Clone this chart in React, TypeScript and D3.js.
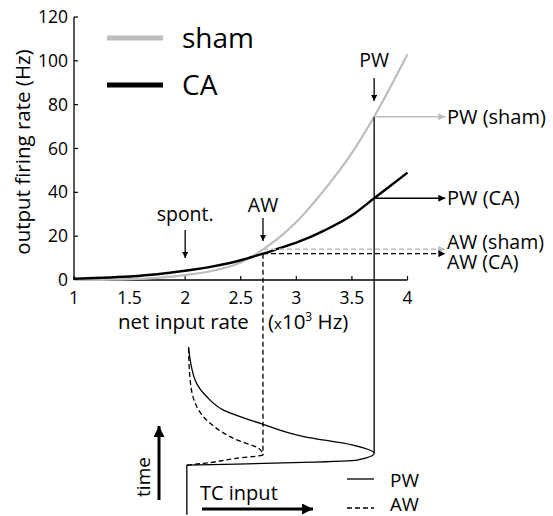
import React from "react";
import * as d3 from "d3";

// ---- data ----
const inputRate = [1, 1.25, 1.5, 1.75, 2, 2.25, 2.5, 2.6, 2.7, 2.85, 3, 3.25, 3.5, 3.7, 4];
const shamRate = [0, 0.1, 0.4, 1.0, 2.2, 4.2, 8, 10.6, 14, 19.6, 26.5, 41, 58, 74.5, 103];
const caRate = [0.6, 1.0, 1.6, 2.6, 4.2, 6.2, 9, 10.5, 12, 14.5, 17, 22.5, 29.5, 37.3, 49];
const xTicks = [1, 1.5, 2, 2.5, 3, 3.5, 4];
const yTicks = [0, 20, 40, 60, 80, 100, 120];

const spontRate = 2;
const awRate = 2.7;
const pwRate = 3.7;

// time courses of TC input (time in arbitrary units, rate in x10^3 Hz)
const baselineTime = [-1, 28.9];
const pwTime = [28.9, 29.5, 30.5, 31.9, 36, 41, 46, 54, 62, 70, 80, 100];
const pwInput = [2.015, 2.466, 3.063, 3.547, 3.7, 3.5, 3.066, 2.676, 2.345, 2.195, 2.09, 2.03];
const awTime = [28.9, 29.9, 33, 35, 39, 44, 54, 64, 80, 100];
const awInput = [2.015, 2.165, 2.466, 2.7, 2.66, 2.466, 2.225, 2.105, 2.045, 2.03];

const FONT = "'Open Sans', 'DejaVu Sans', sans-serif";
const GRAY = "#bdbdbd";

export default function App() {
  const W = 553, H = 516;
  const x = d3.scaleLinear().domain([1, 4]).range([74, 407.5]);
  const y = d3.scaleLinear().domain([0, 120]).range([280, 17]);
  const t = d3.scaleLinear().domain([0, 100]).range([513, 347]);

  const pts = (ys: number[]) => inputRate.map((r, i) => [x(r), y(ys[i])] as [number, number]);
  const curve = d3.line().curve(d3.curveMonotoneX);
  const tc = d3.line().curve(d3.curveMonotoneY);

  const pwIdx = inputRate.indexOf(pwRate);
  const awIdx = inputRate.indexOf(awRate);
  const xArrowEnd = x(4.34);
  const xLabel = x(4.355);

  const pwPath = tc(pwTime.map((tt, i) => [x(pwInput[i]), t(tt)] as [number, number]));
  const awPath = tc(awTime.map((tt, i) => [x(awInput[i]), t(tt)] as [number, number]));

  const pwPeak = pwTime[pwInput.indexOf(d3.max(pwInput)!)];
  const awPeak = awTime[awInput.indexOf(d3.max(awInput)!)];

  return (
    <svg width={W} height={H} style={{ position: "absolute", left: 0, top: 0, background: "#fff" }} fontFamily={FONT}>
      <defs>
        <marker id="ahB" viewBox="0 0 10 10" refX="10" refY="5" markerWidth="10" markerHeight="7" markerUnits="userSpaceOnUse" orient="auto">
          <path d="M0,0 L10,5 L0,10 z" fill="#000" />
        </marker>
        <marker id="ahG" viewBox="0 0 10 10" refX="10" refY="5" markerWidth="10" markerHeight="7" markerUnits="userSpaceOnUse" orient="auto">
          <path d="M0,0 L10,5 L0,10 z" fill={GRAY} />
        </marker>
        <marker id="ahS" viewBox="0 0 10 10" refX="10" refY="5" markerWidth="9" markerHeight="6" markerUnits="userSpaceOnUse" orient="auto">
          <path d="M0,0 L10,5 L0,10 z" fill="#000" />
        </marker>
        <marker id="ahBig" viewBox="0 0 10 10" refX="10" refY="5" markerWidth="16" markerHeight="11" markerUnits="userSpaceOnUse" orient="auto">
          <path d="M0,0 L10,5 L0,10 z" fill="#000" />
        </marker>
      </defs>

      {/* axes */}
      <line x1={x(1)} x2={x(1)} y1={y(0)} y2={y(120)} stroke="#000" strokeWidth={1.3} />
      <line x1={x(1)} x2={x(4)} y1={y(0)} y2={y(0)} stroke="#000" strokeWidth={1.3} />
      {yTicks.map((v) => (
        <g key={"y" + v}>
          <line x1={x(1)} x2={x(1) + 4} y1={y(v)} y2={y(v)} stroke="#000" strokeWidth={1.2} />
          <text x={x(1) - 6} y={y(v) + 6} textAnchor="end" fontSize={17.5}>{v}</text>
        </g>
      ))}
      {xTicks.map((v) => (
        <g key={"x" + v}>
          <line x1={x(v)} x2={x(v)} y1={y(0)} y2={y(0) - 4} stroke="#000" strokeWidth={1.2} />
          <text x={x(v)} y={y(0) + 24} textAnchor="middle" fontSize={17.5}>{v}</text>
        </g>
      ))}
      <text transform={`translate(30,152) rotate(-90)`} textAnchor="middle" fontSize={20.5}>output firing rate (Hz)</text>
      <text x={118} y={329} fontSize={20.5}>net input rate</text>
      <text x={268} y={329} fontSize={20.5}>(<tspan fontSize={15}>x</tspan>10<tspan fontSize={12} dy={-8}>3</tspan><tspan dy={8}> Hz)</tspan></text>

      {/* legend */}
      <line x1={107} x2={163} y1={38} y2={38} stroke={GRAY} strokeWidth={5} />
      <text x={182} y={48} fontSize={28}>sham</text>
      <line x1={107} x2={163} y1={85} y2={85} stroke="#000" strokeWidth={5} />
      <text x={182} y={95} fontSize={28}>CA</text>

      {/* curves */}
      <path d={curve(pts(shamRate))!} fill="none" stroke={GRAY} strokeWidth={2.2} />
      <path d={curve(pts(caRate))!} fill="none" stroke="#000" strokeWidth={2.4} />

      {/* guide lines */}
      <line x1={x(pwRate)} x2={x(pwRate)} y1={y(shamRate[pwIdx])} y2={t(pwPeak)} stroke="#000" strokeWidth={1.3} />
      <line x1={x(awRate)} x2={x(awRate)} y1={y(caRate[awIdx])} y2={t(awPeak)} stroke="#000" strokeWidth={1.3} strokeDasharray="5,3" />

      <line x1={x(pwRate)} x2={xArrowEnd} y1={y(shamRate[pwIdx])} y2={y(shamRate[pwIdx])} stroke={GRAY} strokeWidth={1.5} markerEnd="url(#ahG)" />
      <line x1={x(pwRate)} x2={xArrowEnd} y1={y(caRate[pwIdx])} y2={y(caRate[pwIdx])} stroke="#000" strokeWidth={1.3} markerEnd="url(#ahB)" />
      <line x1={x(awRate)} x2={xArrowEnd} y1={y(shamRate[awIdx])} y2={y(shamRate[awIdx])} stroke={GRAY} strokeWidth={1.5} strokeDasharray="5,3" markerEnd="url(#ahG)" />
      <line x1={x(awRate)} x2={xArrowEnd} y1={y(caRate[awIdx])} y2={y(caRate[awIdx])} stroke="#000" strokeWidth={1.3} strokeDasharray="5,3" markerEnd="url(#ahB)" />

      <text x={xLabel} y={y(shamRate[pwIdx]) + 7} fontSize={20}>PW (sham)</text>
      <text x={xLabel} y={y(caRate[pwIdx]) + 7} fontSize={20}>PW (CA)</text>
      <text x={xLabel} y={y(shamRate[awIdx]) + 0} fontSize={19.5}>AW (sham)</text>
      <text x={xLabel} y={y(caRate[awIdx]) + 15} fontSize={19.5}>AW (CA)</text>

      {/* small arrows */}
      <text x={x(spontRate)} y={221} textAnchor="middle" fontSize={19.5}>spont.</text>
      <line x1={x(spontRate)} x2={x(spontRate)} y1={230} y2={258} stroke="#000" strokeWidth={1.3} markerEnd="url(#ahS)" />
      <text x={x(awRate)} y={212} textAnchor="middle" fontSize={19.5}>AW</text>
      <line x1={x(awRate)} x2={x(awRate)} y1={218} y2={241} stroke="#000" strokeWidth={1.3} markerEnd="url(#ahS)" />
      <text x={x(pwRate)} y={67} textAnchor="middle" fontSize={19.5}>PW</text>
      <line x1={x(pwRate)} x2={x(pwRate)} y1={78} y2={101} stroke="#000" strokeWidth={1.3} markerEnd="url(#ahS)" />

      {/* time courses */}
      <line x1={x(pwInput[0])} x2={x(pwInput[0])} y1={t(baselineTime[0])} y2={t(baselineTime[1])} stroke="#000" strokeWidth={1.3} />
      <path d={pwPath!} fill="none" stroke="#000" strokeWidth={1.3} />
      <path d={awPath!} fill="none" stroke="#000" strokeWidth={1.3} strokeDasharray="5,3" />

      <text transform={`translate(150,477) rotate(-90)`} textAnchor="middle" fontSize={19}>time</text>
      <line x1={159} x2={159} y1={500} y2={426} stroke="#000" strokeWidth={3} markerEnd="url(#ahBig)" />
      <text x={200} y={500} fontSize={20}>TC input</text>
      <line x1={202} x2={313} y1={509} y2={509} stroke="#000" strokeWidth={3} markerEnd="url(#ahBig)" />

      <line x1={347} x2={374} y1={479} y2={479} stroke="#000" strokeWidth={1.3} />
      <text x={390} y={487} fontSize={19}>PW</text>
      <line x1={347} x2={374} y1={508} y2={508} stroke="#000" strokeWidth={1.3} strokeDasharray="5,3" />
      <text x={390} y={511} fontSize={18.5}>AW</text>
    </svg>
  );
}
